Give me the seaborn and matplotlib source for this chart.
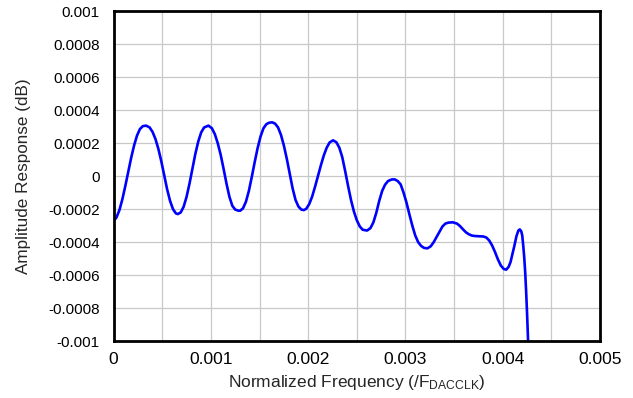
import numpy as np
import pandas as pd
import matplotlib.pyplot as plt
import seaborn as sns
from matplotlib.ticker import MultipleLocator, FixedLocator, FixedFormatter

# Valori (frecventa normalizata, raspuns in dB)
freq = [0.0, 0.00003, 0.00006, 0.00009, 0.00012, 0.00015, 0.00018, 0.00021, 0.00024,
        0.00027, 0.0003, 0.000334, 0.00037, 0.0004, 0.00043, 0.00046, 0.00049,
        0.00052, 0.00055, 0.00058, 0.00061, 0.00064, 0.00066, 0.00069, 0.00072,
        0.00075, 0.00078, 0.00081, 0.00084, 0.00087, 0.0009, 0.00093, 0.000975,
        0.00101, 0.00104, 0.00107, 0.0011, 0.00113, 0.00116, 0.00119, 0.00122,
        0.00125, 0.00128, 0.0013, 0.00133, 0.00136, 0.00139, 0.00142, 0.00145,
        0.00148, 0.00151, 0.00154, 0.00157, 0.0016, 0.00163, 0.00166, 0.00169,
        0.00172, 0.00175, 0.00178, 0.00181, 0.00184, 0.00187, 0.0019, 0.00193,
        0.001955, 0.00198, 0.00201, 0.00204, 0.00207, 0.0021, 0.00213, 0.00216,
        0.00219, 0.00222, 0.002255, 0.00229, 0.00232, 0.00235, 0.00238, 0.00241,
        0.00244, 0.00247, 0.0025, 0.00253, 0.00256, 0.002605, 0.00264, 0.00267,
        0.0027, 0.00273, 0.00276, 0.00279, 0.00282, 0.00286, 0.00289, 0.00292,
        0.00295, 0.00298, 0.00301, 0.00304, 0.00307, 0.0031, 0.00313, 0.00316,
        0.00319, 0.003225, 0.00326, 0.00329, 0.00332, 0.00335, 0.00338, 0.00341,
        0.00344, 0.003486, 0.00353, 0.00356, 0.00359, 0.00362, 0.00365, 0.00368,
        0.00371, 0.00374, 0.00377, 0.0038, 0.00383, 0.00386, 0.00389, 0.00392,
        0.00395, 0.00398, 0.00401, 0.004035, 0.00406, 0.00408, 0.0041, 0.00412,
        0.00414, 0.00416, 0.004175, 0.00419, 0.0042, 0.00421, 0.00422, 0.00423,
        0.00424, 0.00425, 0.00426, 0.004265]
resp = [-0.000272, -0.00025, -0.000205, -0.00014, -0.00006, 0.000025, 0.00011, 0.000185, 0.000245,
        0.000285, 0.000303, 0.000306, 0.000295, 0.000268, 0.000225, 0.000165, 0.00009,
        0.000005, -0.00008, -0.00015, -0.0002, -0.000226, -0.00023, -0.00022, -0.000185,
        -0.000125, -0.000045, 0.000045, 0.000135, 0.00021, 0.000265, 0.000295, 0.000306,
        0.00029, 0.000255, 0.0002, 0.00013, 0.000045, -0.000045, -0.000125, -0.00018,
        -0.000203, -0.000209, -0.00021, -0.000195, -0.000155, -0.00009, -0.000005, 0.000085,
        0.00017, 0.00024, 0.00029, 0.000315, 0.000324, 0.000326, 0.000318, 0.000295,
        0.00025, 0.000185, 0.000105, 0.000015, -0.000075, -0.000145, -0.000185, -0.000203,
        -0.000206, -0.000198, -0.00017, -0.000125, -0.000065, 0.0, 0.000065, 0.000125,
        0.000172, 0.000204, 0.000217, 0.000205, 0.000172, 0.000115, 0.00003, -0.00006,
        -0.000145, -0.000215, -0.000268, -0.000305, -0.000325, -0.00033, -0.000315, -0.00028,
        -0.000222, -0.00015, -0.00009, -0.000052, -0.00003, -0.00002, -0.00002, -0.00003,
        -0.00005, -0.0001, -0.00016, -0.000232, -0.0003, -0.00036, -0.0004, -0.000423,
        -0.000435, -0.000438, -0.000425, -0.0004, -0.000368, -0.000335, -0.000305, -0.000288,
        -0.000282, -0.00028, -0.000288, -0.000303, -0.000322, -0.00034, -0.000352, -0.00036,
        -0.000363, -0.000364, -0.000365, -0.000366, -0.000372, -0.00039, -0.00042, -0.00046,
        -0.000505, -0.000542, -0.000563, -0.000567, -0.00055, -0.00052, -0.00047, -0.00042,
        -0.000365, -0.00033, -0.000323, -0.000335, -0.00036, -0.00042, -0.00049, -0.00058,
        -0.0007, -0.00084, -0.001, -0.00106]

y_ticks = [-0.001, -0.0008, -0.0006, -0.0004, -0.0002, 0, 0.0002, 0.0004, 0.0006, 0.0008, 0.001]
y_labels = ['-0.001', '-0.0008', '-0.0006', '-0.0004', '-0.0002', '0',
            '0.0002', '0.0004', '0.0006', '0.0008', '0.001']
x_ticks = [0, 0.001, 0.002, 0.003, 0.004, 0.005]
x_labels = ['0', '0.001', '0.002', '0.003', '0.004', '0.005']

df = pd.DataFrame({'freq': freq, 'resp': resp})

sns.set_style('white')
plt.rcParams['font.family'] = ['Liberation Sans', 'DejaVu Sans']
plt.rcParams['mathtext.default'] = 'regular'

fig = plt.figure(figsize=(6.33, 3.98), dpi=100)
ax = fig.add_axes([0.1795, 0.143, 0.7685, 0.829])

sns.lineplot(data=df, x='freq', y='resp', ax=ax, color='#0000ff', linewidth=1.9, sort=False)

ax.set_xlim(0, 0.005)
ax.set_ylim(-0.001, 0.001)
ax.xaxis.set_major_locator(FixedLocator(x_ticks))
ax.xaxis.set_major_formatter(FixedFormatter(x_labels))
ax.xaxis.set_minor_locator(MultipleLocator(0.0005))
ax.yaxis.set_major_locator(FixedLocator(y_ticks))
ax.yaxis.set_major_formatter(FixedFormatter(y_labels))

ax.grid(True, which='both', axis='x', color='#c8c8c8', linewidth=0.9)
ax.grid(True, which='major', axis='y', color='#c8c8c8', linewidth=0.9)
ax.set_axisbelow(True)
ax.tick_params(which='both', length=0, colors='black')
ax.tick_params(axis='x', labelsize=12.5, pad=8)
ax.tick_params(axis='y', labelsize=11, pad=10)

for s in ax.spines.values():
    s.set_color('black')
    s.set_linewidth(2)

ax.set_xlabel('Normalized Frequency (/F$_{DACCLK}$)', fontsize=12.5, labelpad=4)
ax.set_ylabel('Amplitude Response (dB)', fontsize=12.3, labelpad=12)

plt.savefig('out.png', dpi=100)
